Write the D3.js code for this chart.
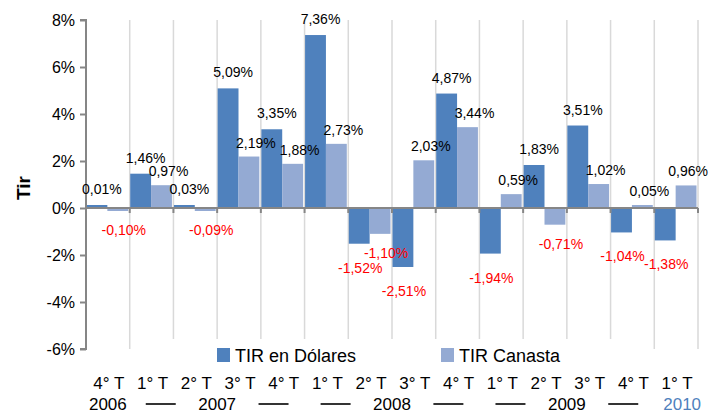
<!DOCTYPE html>
<html>
<head>
<meta charset="utf-8">
<script src="https://cdn.jsdelivr.net/npm/d3@7"></script>
<style>
  html, body { margin: 0; padding: 0; background: #fff; }
  svg { display: block; font-family: "Liberation Sans", Arial, sans-serif; }
</style>
</head>
<body>
<svg id="chart" width="709" height="413"></svg>
<script>
// ---- Data ----
const quarters = ["4° T", "1° T", "2° T", "3° T", "4° T", "1° T", "2° T", "3° T", "4° T", "1° T", "2° T", "3° T", "4° T", "1° T"];
const years    = ["2006", "2007", "2007", "2007", "2007", "2008", "2008", "2008", "2008", "2009", "2009", "2009", "2009", "2010"];
const tirDolares = [0.01, 1.46, 0.03, 5.09, 3.35, 7.36, -1.52, -2.51, 4.87, -1.94, 1.83, 3.51, -1.04, -1.38];
const tirCanasta = [-0.10, 0.97, -0.09, 2.19, 1.88, 2.73, -1.10, 2.03, 3.44, 0.59, -0.71, 1.02, 0.05, 0.96];
const seriesNames = ["TIR en Dólares", "TIR Canasta"];
const yTicks = [-6, -4, -2, 0, 2, 4, 6, 8];

(function () {
// ---- Layout ----
const W = 709;
const svg = d3.select("#chart");
const mLeft = 86, mRight = 698, mTop = 20, mBottom = 349;
const colors = ["#4F81BD", "#94AAD3"];
const fmt = v => v.toFixed(2).replace(".", ",") + "%";

const idx = d3.range(quarters.length);
const x = d3.scaleBand().domain(idx).range([mLeft, mRight]).padding(0);
const step = x.step();
const x1 = d3.scaleBand().domain([0, 1]).range([0.5, step - 1.5]).padding(0);
const y = d3.scaleLinear().domain([-6, 8]).range([mBottom, mTop]);

// Vertical gridlines at category boundaries
svg.append("g").selectAll("line").data(idx).join("line")
  .attr("x1", i => x(i) + step).attr("x2", i => x(i) + step)
  .attr("y1", mTop).attr("y2", mBottom)
  .attr("stroke", "#d9d9d9").attr("stroke-width", 1.5);

// Bars
const seriesData = [tirDolares, tirCanasta];
const barH = v => Math.max(3, Math.abs(y(v) - y(0)));
seriesData.forEach((vals, s) => {
  svg.append("g").selectAll("rect").data(idx).join("rect")
    .attr("x", i => x(i) + x1(s))
    .attr("width", x1.bandwidth())
    .attr("y", i => vals[i] >= 0 ? y(0) - barH(vals[i]) : y(0))
    .attr("height", i => barH(vals[i]))
    .attr("fill", colors[s]);
});

// Y axis
const yAxis = svg.append("g").attr("transform", `translate(${mLeft},0)`)
  .call(d3.axisLeft(y).tickValues(yTicks).tickSize(6).tickPadding(5).tickFormat(d => d + "%"));
yAxis.select(".domain").attr("stroke", "#868686").attr("stroke-width", 2).attr("d", `M-6,${y(8)}H0V${y(-6)}H-6`);
yAxis.selectAll(".tick line").attr("stroke", "#868686").attr("stroke-width", 2);
yAxis.selectAll(".tick text").attr("font-size", 16).attr("fill", "#000")
  .attr("font-family", "'Liberation Sans', Arial, sans-serif");

// Zero axis line with downward ticks
const zeroAxis = svg.append("g").attr("transform", `translate(0,${y(0)})`);
zeroAxis.append("line").attr("x1", mLeft).attr("x2", mRight).attr("y1", 0).attr("y2", 0)
  .attr("stroke", "#868686").attr("stroke-width", 2);
zeroAxis.selectAll("line.tk").data(idx).join("line").attr("class", "tk")
  .attr("x1", i => x(i) + step).attr("x2", i => x(i) + step)
  .attr("y1", 0).attr("y2", 5)
  .attr("stroke", "#868686").attr("stroke-width", 2);

// Data labels (offsets by series and sign)
const lblStyle = [
  { pos: { dx: 5, dy: -11 }, neg: { dx: 1, dy: 29 } },
  { pos: { dx: 7, dy: -9 },  neg: { dx: 6, dy: 24 } }
];
seriesData.forEach((vals, s) => {
  svg.append("g").selectAll("text").data(idx).join("text")
    .attr("y", i => {
      const st = vals[i] >= 0 ? lblStyle[s].pos : lblStyle[s].neg;
      return vals[i] >= 0 ? y(0) - barH(vals[i]) + st.dy : y(0) + barH(vals[i]) + st.dy;
    })
    .attr("text-anchor", "middle")
    .attr("font-size", 14)
    .attr("fill", i => vals[i] >= 0 ? "#000" : "#FF0000")
    .text(i => fmt(vals[i]))
    .each(function (i) {
      const st = vals[i] >= 0 ? lblStyle[s].pos : lblStyle[s].neg;
      const w = this.getComputedTextLength();
      const cx = x(i) + x1(s) + x1.bandwidth() / 2 + st.dx;
      d3.select(this).attr("x", Math.min(cx, W - 1 - w / 2));
    });
});

// Y axis title
svg.append("text")
  .attr("transform", "translate(30,188) rotate(-90)")
  .attr("text-anchor", "middle")
  .attr("font-size", 19).attr("font-weight", "bold")
  .text("Tir");

// Legend (white background covering gridlines)
svg.append("rect").attr("x", 140).attr("y", 339).attr("width", 505).attr("height", 33).attr("fill", "#fff");
const legendX = [217, 441];
seriesNames.forEach((name, s) => {
  svg.append("rect").attr("x", legendX[s]).attr("y", 348).attr("width", 13).attr("height", 14).attr("fill", colors[s]);
  svg.append("text").attr("x", legendX[s] + 18).attr("y", 362)
    .attr("font-size", 18).attr("fill", "#000").text(name);
});

// X labels: quarter row
svg.append("g").selectAll("text").data(idx).join("text")
  .attr("x", i => x(i) + step / 2 + 1)
  .attr("y", 389)
  .attr("text-anchor", "middle")
  .attr("font-size", 17).attr("fill", "#000")
  .text(i => quarters[i]);

// X labels: year row
const yearGroups = d3.groups(idx, i => years[i]);
const lastYear = years[years.length - 1];
yearGroups.forEach(([yr, members]) => {
  const cx = d3.mean(members, i => x(i) + step / 2);
  svg.append("text")
    .attr("x", cx + (yr === lastYear ? 6 : 0))
    .attr("y", 410)
    .attr("text-anchor", "middle")
    .attr("font-size", 17)
    .attr("fill", yr === lastYear ? "#4F81BD" : "#000")
    .text(yr);
  if (members.length > 1) {
    [-1, 1].forEach(sg => {
      const c = cx + sg * step * 1.29;
      svg.append("line")
        .attr("x1", c - 15).attr("x2", c + 15)
        .attr("y1", 404).attr("y2", 404)
        .attr("stroke", "#000").attr("stroke-width", 1.6);
    });
  }
});
})();
</script>
</body>
</html>
